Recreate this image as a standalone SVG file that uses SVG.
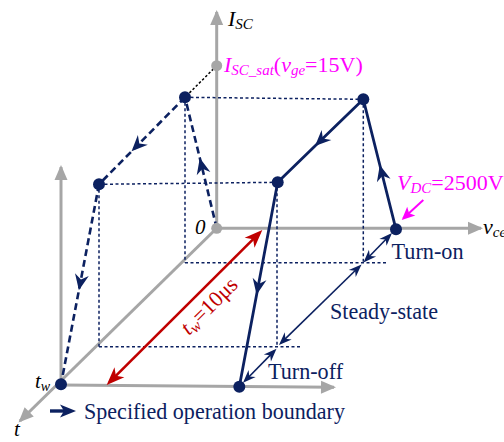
<svg xmlns="http://www.w3.org/2000/svg" width="504" height="442" viewBox="0 0 504 442">
<style>
.ax{stroke:#a6a6a6;stroke-width:3;fill:none}
.proj{stroke:#0c2160;stroke-width:1.5;stroke-dasharray:3 2.5;fill:none}
.dash{stroke:#0c2160;stroke-width:2.6;stroke-dasharray:7 4;fill:none}
.solid{stroke:#0c2160;stroke-width:2.8;fill:none}
.thin{stroke:#0c2160;stroke-width:1.6;fill:none}
.dot{fill:#0c2160}
.gdot{fill:#a6a6a6}
.nv{fill:#0c2160;font-size:23px}
.it{font-style:italic}
</style>
<defs>
<marker id="ga" markerUnits="userSpaceOnUse" orient="auto" overflow="visible" markerWidth="1" markerHeight="1"><path d="M-13,-6.5 L2,0 L-13,6.5 Z" fill="#a6a6a6"/></marker>
<marker id="na" markerUnits="userSpaceOnUse" orient="auto" overflow="visible" markerWidth="1" markerHeight="1"><path d="M0,0 L-16,-7 L-11,0 L-16,7 Z" fill="#0c2160"/></marker>
<marker id="ta" markerUnits="userSpaceOnUse" orient="auto-start-reverse" overflow="visible" markerWidth="1" markerHeight="1"><path d="M3,0 L-10,-5 L-6,0 L-10,5 Z" fill="#0c2160"/></marker>
<marker id="ra" markerUnits="userSpaceOnUse" orient="auto-start-reverse" overflow="visible" markerWidth="1" markerHeight="1"><path d="M4,0 L-14,-7 L-9,0 L-14,7 Z" fill="#c00000"/></marker>
<marker id="ma" markerUnits="userSpaceOnUse" orient="auto" overflow="visible" markerWidth="1" markerHeight="1"><path d="M2,0 L-11,-6 L-8,0 L-11,6 Z" fill="#ff00ff"/></marker>
<marker id="la" markerUnits="userSpaceOnUse" orient="auto" overflow="visible" markerWidth="1" markerHeight="1"><path d="M8,0 L-8,-6.5 L-4,0 L-8,6.5 Z" fill="#0c2160"/></marker>
</defs>

<g id="axes">
<line class="ax" x1="216.7" y1="228.3" x2="216.7" y2="12" marker-end="url(#ga)"/>
<line class="ax" x1="216.7" y1="228.3" x2="481" y2="228.3" marker-end="url(#ga)"/>
<line class="ax" x1="61" y1="384.3" x2="61" y2="167" marker-end="url(#ga)"/>
<line class="ax" x1="61" y1="385" x2="334" y2="387.3" marker-end="url(#ga)"/>
<line class="ax" x1="216.7" y1="228.3" x2="19.9" y2="421" marker-end="url(#ga)"/>
</g>

<g id="projections">
<line class="proj" x1="185" y1="97.3" x2="363.3" y2="99.3"/>
<line class="proj" x1="185" y1="97.3" x2="185" y2="262.7"/>
<line class="proj" x1="185" y1="262.7" x2="388.3" y2="262.7"/>
<line class="proj" x1="363.3" y1="99.3" x2="363.3" y2="262.7"/>
<line class="proj" x1="99" y1="184.3" x2="277.7" y2="182.3"/>
<line class="proj" x1="99" y1="184.3" x2="99" y2="346.7"/>
<line class="proj" x1="99" y1="346.7" x2="301.7" y2="346.7"/>
<line class="proj" x1="277" y1="182.3" x2="277" y2="346.7"/>
</g>

<g id="connectors">
<line x1="216.7" y1="65.7" x2="185" y2="97.3" stroke="#000" stroke-width="1.5" stroke-dasharray="2.5 2"/>
<polyline class="dash" points="216.7,228.3 199.8,158 185,97.3" marker-mid="url(#na)"/>
<polyline class="dash" points="185,97.3 131.6,151.3 99,184.3" marker-mid="url(#na)"/>
<polyline class="dash" points="99,184.3 78.9,290.3 61,384.3" marker-mid="url(#na)"/>
<polyline class="solid" points="396,229.3 379.8,165 363.3,99.3" marker-mid="url(#na)"/>
<polyline class="solid" points="363.3,99.3 315,146.1 277.7,182.3" marker-mid="url(#na)"/>
<polyline class="solid" points="277.7,182.3 256.6,294.7 239.3,386.7" marker-mid="url(#na)"/>
<line class="thin" x1="389.9" y1="235.2" x2="365.6" y2="260.3" marker-start="url(#ta)" marker-end="url(#ta)"/>
<line class="thin" x1="359.4" y1="266.5" x2="281.1" y2="342.9" marker-start="url(#ta)" marker-end="url(#ta)"/>
<line class="thin" x1="274.4" y1="350.9" x2="245.1" y2="380.7" marker-start="url(#ta)" marker-end="url(#ta)"/>
<line x1="259.5" y1="232.8" x2="109.5" y2="382.2" stroke="#c00000" stroke-width="2.6" marker-start="url(#ra)" marker-end="url(#ra)"/>
<line x1="423.3" y1="200" x2="403.2" y2="218.6" stroke="#ff00ff" stroke-width="2" marker-end="url(#ma)"/>
<line x1="50" y1="411" x2="68" y2="411" stroke="#0c2160" stroke-width="3.4" marker-end="url(#la)"/>
</g>

<g id="node-isat"><circle class="gdot" cx="216.7" cy="65.7" r="5.5"/></g>
<g id="node-origin"><circle class="gdot" cx="216.7" cy="228.3" r="5.5"/></g>
<g id="node-A"><circle class="dot" cx="185" cy="97.3" r="6"/></g>
<g id="node-B"><circle class="dot" cx="363.3" cy="99.3" r="6"/></g>
<g id="node-C"><circle class="dot" cx="99" cy="184.3" r="6"/></g>
<g id="node-D"><circle class="dot" cx="277.7" cy="182.3" r="6"/></g>
<g id="node-E"><circle class="dot" cx="396" cy="229.3" r="6"/></g>
<g id="node-F"><circle class="dot" cx="61" cy="384.3" r="6"/></g>
<g id="node-G"><circle class="dot" cx="239.3" cy="386.7" r="6"/></g>

<g id="labels" font-family="'Liberation Serif', 'Times New Roman', 'DejaVu Serif', serif">
<text x="228" y="26" font-size="22" class="it" fill="#000">I<tspan font-size="15" dy="3">SC</tspan></text>
<text x="224" y="72" font-size="22" fill="#ff00ff"><tspan class="it">I</tspan><tspan class="it" font-size="15" dy="3">SC_sat</tspan><tspan dy="-3">(</tspan><tspan class="it">v</tspan><tspan class="it" font-size="15" dy="3">ge</tspan><tspan dy="-3">=15V)</tspan></text>
<text x="397" y="190" font-size="22" fill="#ff00ff"><tspan class="it">V</tspan><tspan class="it" font-size="15" dy="3">DC</tspan><tspan dy="-3">=2500V</tspan></text>
<text x="483" y="234" font-size="22" class="it" fill="#000">v<tspan font-size="15" dy="3">ce</tspan></text>
<text x="195" y="234" font-size="21" class="it" fill="#000">0</text>
<text x="35" y="388" font-size="21" class="it" fill="#000">t<tspan font-size="14" dy="3">w</tspan></text>
<text x="14" y="436" font-size="21" class="it" fill="#000">t</text>
<text x="391.5" y="259" class="nv" textLength="72" lengthAdjust="spacingAndGlyphs">Turn-on</text>
<text x="330" y="318.5" class="nv" textLength="108" lengthAdjust="spacingAndGlyphs">Steady-state</text>
<text x="268" y="379" class="nv" textLength="75" lengthAdjust="spacingAndGlyphs">Turn-off</text>
<text x="84" y="418.5" class="nv" textLength="261" lengthAdjust="spacingAndGlyphs">Specified operation boundary</text>
<text transform="translate(189,336) rotate(-45)" fill="#c00000" font-size="22"><tspan class="it">t</tspan><tspan class="it" font-size="15" dy="3">w</tspan><tspan dy="-3">=10μs</tspan></text>
</g>
</svg>
